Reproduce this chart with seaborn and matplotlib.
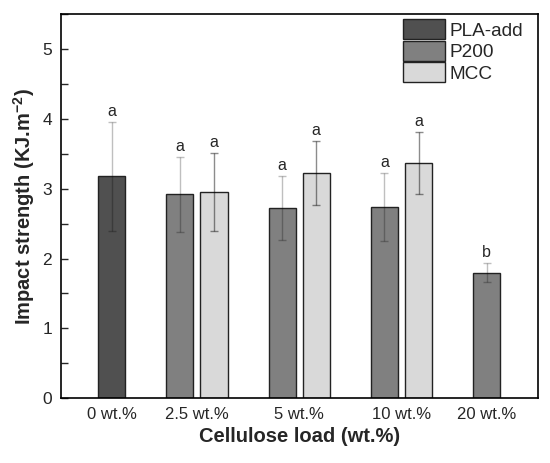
import numpy as np
import pandas as pd
import seaborn as sns
import matplotlib
matplotlib.use("Agg")
import matplotlib.pyplot as plt
from matplotlib.ticker import MultipleLocator

sns.set_theme(style="ticks")
plt.rcParams['font.family'] = ['Liberation Sans', 'DejaVu Sans']
plt.rcParams['mathtext.fontset'] = 'custom'
plt.rcParams['mathtext.rm'] = 'Liberation Sans'
plt.rcParams['mathtext.bf'] = 'Liberation Sans:bold'

# data
series = ['PLA-add', 'P200', 'MCC', 'P200', 'MCC', 'P200', 'MCC', 'P200']
slot = [0, 2, 3, 5, 6, 8, 9, 11]
means = [3.18, 2.92, 2.95, 2.73, 3.23, 2.74, 3.37, 1.80]
sds = [0.78, 0.54, 0.56, 0.46, 0.46, 0.49, 0.45, 0.14]
letters = ['a', 'a', 'a', 'a', 'a', 'a', 'a', 'b']

group_labels = ['0 wt.%', '2.5 wt.%', '5 wt.%', '10 wt.%', '20 wt.%']
group_centers = [0, 2.5, 5.5, 8.5, 11]

colors = {'PLA-add': '#505050', 'P200': '#808080', 'MCC': '#d9d9d9'}
err_alpha = {'PLA-add': 0.25, 'P200': 0.25, 'MCC': 0.45}

df = pd.DataFrame({'pos': slot, 'val': means, 'sd': sds, 'series': series, 'lab': letters})

fig, ax = plt.subplots(figsize=(5.5, 4.63), dpi=100)
fig.subplots_adjust(left=0.110, right=0.978, top=0.969, bottom=0.140)

sns.barplot(data=df, x='pos', y='val', hue='series', hue_order=['PLA-add', 'P200', 'MCC'],
            palette=colors, native_scale=True, dodge=False, errorbar=None,
            width=0.8, edgecolor='#222222', linewidth=1.0, ax=ax)

for _, r in df.iterrows():
    ax.errorbar(r['pos'], r['val'], yerr=r['sd'], fmt='none', ecolor='black',
                alpha=err_alpha[r['series']], elinewidth=1.0, capsize=2.6, capthick=1.0)
    ax.annotate(r['lab'], (r['pos'], r['val'] + r['sd']), xytext=(0, 2),
                textcoords='offset points', ha='center', va='bottom', fontsize=11.5)

ax.set_xlim(-1.5, 12.5)
ax.set_ylim(0, 5.5)
ax.set_xticks(group_centers)
ax.set_xticklabels(group_labels, fontsize=12)
ax.tick_params(axis='x', length=0, pad=6)
ax.yaxis.set_major_locator(MultipleLocator(1))
ax.yaxis.set_minor_locator(MultipleLocator(0.5))
ax.tick_params(axis='y', which='both', direction='in', length=5, width=1, labelsize=12.5, pad=6)
for s in ax.spines.values():
    s.set_linewidth(1.2)
    s.set_color('black')

ax.set_xlabel('Cellulose load (wt.%)', fontsize=14.5, fontweight='bold', labelpad=4)
ax.set_ylabel(r'Impact strength (KJ.m$^{\mathbf{-2}}$)', fontsize=14.5, fontweight='bold', labelpad=4)

leg = ax.legend(loc='upper left', bbox_to_anchor=(0.697, 1.012), frameon=False,
                fontsize=13.7, handlelength=2.2, handleheight=1.25, labelspacing=0.05,
                handletextpad=0.28, borderpad=0)
for h in leg.legend_handles:
    h.set_edgecolor('#222222')
    h.set_linewidth(1.0)

fig.savefig('out.png', dpi=100)
